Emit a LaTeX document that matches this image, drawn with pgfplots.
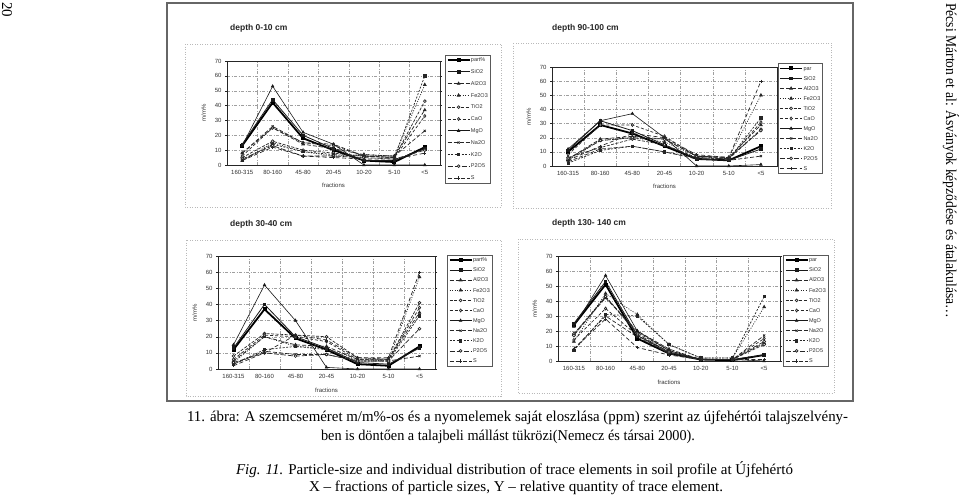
\documentclass[border=0pt]{standalone}
\usepackage{pgfplots}
\pgfplotsset{compat=1.18}
\usepackage{pgfplotstable}
\usepackage{fontspec}
\setmainfont{Liberation Sans}
\newfontfamily\serif{Liberation Serif}
\usetikzlibrary{plotmarks}

\newsavebox\fitbox
\newcommand\fitw[2]{\sbox\fitbox{#2}\pgfmathsetmacro\fitsx{#1/\the\wd\fitbox}\scalebox{\fitsx}[1]{\usebox\fitbox}}

% x: 0=160-315, 1=80-160, 2=45-80, 3=20-45, 4=10-20, 5=5-10, 6=<5
\pgfplotstableread{
x part SiO2 Al2O3 Fe2O3 TiO2 CaO MgO Na2O K2O P2O5 S
0 13 14 8 3 5 6 13 8 3 4 3
1 42 44 25 15 16 25 53 26 14 13 12
2 18 20 14 9 10 15 22 15 9 6 6
3 10 11 11 6 8 13 14 14 7 6 5
4 3 3 7 7 6 6 0 6 6 5 4
5 2 3 6 6 5 5 0 6 5 4 4
6 12 11 37 54 43 33 0 23 60 10 8
}\tA
\pgfplotstableread{
x part SiO2 Al2O3 Fe2O3 TiO2 CaO MgO Na2O K2O P2O5 S
0 10 11 5 4 6 8 12 3 2 5 4
1 29 32 19 18 13 29 32 12 11 18 14
2 23 25 21 20 19 29 37 14 14 20 23
3 14 15 19 17 15 21 20 10 10 19 20
4 5 5 7 7 6 7 0 5 6 7 8
5 4 4 6 6 5 5 0 4 5 6 6
6 14 12 29 50 26 31 1 7 34 25 60
}\tB
\pgfplotstableread{
x part SiO2 Al2O3 Fe2O3 TiO2 CaO MgO Na2O K2O P2O5 S
0 12 13 5 4 8 6 15 3 3 4 2
1 37 40 20 20 22 21 52 11 12 10 10
2 19 20 15 14 21 20 30 9 14 8 21
3 12 13 14 13 20 17 1 9 12 9 18
4 3 4 6 6 7 6 0 5 5 5 7
5 2 3 6 5 6 6 0 5 5 5 7
6 14 13 35 57 41 38 0 8 33 25 60
}\tC
\pgfplotstableread{
x part SiO2 Al2O3 Fe2O3 TiO2 CaO MgO Na2O K2O P2O5 S
0 24 25 18 13 18 14 23 8 7 17 8
1 51 53 42 45 43 35 57 30 31 43 28
2 15 17 20 31 19 17 20 16 30 18 9
3 5 6 8 11 7 5 7 5 11 6 4
4 1 1 1 2 1 1 1 1 2 1 1
5 0.5 1 1 2 1 1 1 1 2 1 1
6 4 4 12 36 11 15 0 17 43 13 1
}\tD

\pgfplotsset{
  s0/.style={black, line width=1.8pt, mark=square*, mark size=1.1pt},
  s1/.style={black!90, line width=0.8pt, mark=square*, mark size=1.3pt},
  s2/.style={black!85, line width=0.7pt, dash pattern=on 4pt off 2pt, mark=triangle*, mark size=1.5pt, mark options={solid}},
  s3/.style={black!85, line width=0.7pt, dash pattern=on 1pt off 1.5pt, mark=triangle*, mark size=1.6pt, mark options={solid}},
  s4/.style={black!85, line width=0.7pt, dash pattern=on 3pt off 1.5pt, mark=*, mark size=1.4pt, mark options={solid, fill=white}},
  s5/.style={black!85, line width=0.7pt, dash pattern=on 3pt off 2pt, mark=diamond*, mark size=1.5pt, mark options={solid, fill=white}},
  s6/.style={black!90, line width=0.6pt, mark=triangle*, mark size=1.5pt},
  s7/.style={black!85, line width=0.7pt, dash pattern=on 4pt off 2pt, mark=x, mark size=1.5pt, mark options={solid}},
  s8/.style={black!85, line width=0.7pt, dash pattern=on 2pt off 1.5pt, mark=square*, mark size=1.2pt, mark options={solid}},
  s9/.style={black!85, line width=0.7pt, dash pattern=on 5pt off 2pt, mark=*, mark size=1.4pt, mark options={solid, fill=white}},
  s10/.style={black!85, line width=0.7pt, dash pattern=on 4pt off 2.5pt, mark=+, mark size=1.6pt, mark options={solid}},
  panel/.style={
    scale only axis,
    xmin=-0.5, xmax=6.5, ymin=0, ymax=70,
    xtick={0,...,6},
    xticklabels={160-315,80-160,45-80,20-45,10-20,5-10,<5},
    minor xtick={0.5,1.5,...,5.5},
    ytick={0,10,...,70},
    xminorgrids=true, ymajorgrids=true,
    grid style={gray!75, dash pattern=on 3pt off 1.5pt on 1pt off 1.5pt, line width=0.4pt},
    minor grid style={gray!75, dash pattern=on 3pt off 1.5pt on 1pt off 1.5pt, line width=0.4pt},
    axis line style={black!85, line width=0.7pt},
    xtick style={draw=none},
    ytick style={black!85},
    major tick length=2pt, tick align=outside,
    tick label style={font=\fontsize{6}{7}\selectfont, text=black!80},
    /pgf/number format/assume math mode=true,
    xlabel={fractions}, ylabel={m/m\%},
    xlabel style={yshift=-2pt},
    ylabel style={yshift=2pt},
    label style={font=\fontsize{6}{7}\selectfont, text=black!80},
    legend cell align=left,
    legend image code/.code={\draw[mark repeat=2,mark phase=2,##1] plot coordinates {(0pt,0pt) (11pt,0pt) (22pt,0pt)};},
    legend style={at={(1,1)}, anchor=north west, draw=black!65, line width=0.4pt,
      font=\fontsize{5.5}{6}\selectfont, text=black!80, inner sep=1.5pt,
      nodes={inner sep=0.5pt, text height=4.5pt, text depth=1pt}},
  },
}

\newcommand\plotall[2]{%
  \addplot[s0] table[x=x,y=part]{#1};
  \addplot[s1] table[x=x,y=SiO2]{#1};
  \addplot[s2] table[x=x,y=Al2O3]{#1};
  \addplot[s3] table[x=x,y=Fe2O3]{#1};
  \addplot[s4] table[x=x,y=TiO2]{#1};
  \addplot[s5] table[x=x,y=CaO]{#1};
  \addplot[s6] table[x=x,y=MgO]{#1};
  \addplot[s7] table[x=x,y=Na2O]{#1};
  \addplot[s8] table[x=x,y=K2O]{#1};
  \addplot[s9] table[x=x,y=P2O5]{#1};
  \addplot[s10] table[x=x,y=S]{#1};
  \legend{#2,SiO2,Al2O3,Fe2O3,TiO2,CaO,MgO,Na2O,K2O,P2O5,S}
}

\begin{document}
\begin{tikzpicture}
\useasboundingbox (0pt,0pt) rectangle (960pt,-498pt);
\fill[white] (0pt,0pt) rectangle (960pt,-498pt);

% outer frame
\draw[black!60, line width=1.4pt] (167pt,-3pt) rectangle (853pt,-401pt);
% chart-area borders
\begin{scope}[gray!55, line width=0.4pt, dash pattern=on 1pt off 1.5pt]
\draw (185pt,-44pt) rectangle (501pt,-207pt);
\draw (513pt,-43pt) rectangle (831pt,-208pt);
\draw (186pt,-240pt) rectangle (501pt,-396pt);
\draw (518pt,-239pt) rectangle (834pt,-393pt);
\end{scope}

% titles
\node[anchor=west, font=\fontsize{8.5}{10}\selectfont\bfseries, text=black!85, inner sep=0pt] at (230pt,-28pt) {depth 0-10 cm};
\node[anchor=west, font=\fontsize{8.5}{10}\selectfont\bfseries, text=black!85, inner sep=0pt] at (552pt,-28pt) {depth 90-100 cm};
\node[anchor=west, font=\fontsize{8.5}{10}\selectfont\bfseries, text=black!85, inner sep=0pt] at (230pt,-224pt) {depth 30-40 cm};
\node[anchor=west, font=\fontsize{8.5}{10}\selectfont\bfseries, text=black!85, inner sep=0pt] at (552pt,-223pt) {depth 130- 140 cm};

\begin{axis}[panel, at={(227pt,-165pt)}, anchor=south west, width=213pt, height=104pt,
  legend style={xshift=5pt, yshift=6pt, row sep=5.3pt}]
\plotall{\tA}{part\%}
\end{axis}

\begin{axis}[panel, at={(552pt,-166pt)}, anchor=south west, width=225pt, height=99pt,
  legend style={xshift=0.5pt, yshift=3.5pt, row sep=3.5pt}]
\plotall{\tB}{par}
\end{axis}

\begin{axis}[panel, at={(218pt,-369pt)}, anchor=south west, width=217pt, height=113pt,
  legend style={xshift=12pt, yshift=1pt, row sep=3.6pt}]
\plotall{\tC}{part\%}
\end{axis}

\begin{axis}[panel, at={(558pt,-361pt)}, anchor=south west, width=222pt, height=105pt,
  legend style={xshift=3pt, yshift=1pt, row sep=3.6pt}]
\plotall{\tD}{par}
\end{axis}

% caption
\begin{scope}[every node/.style={inner sep=0pt, font=\serif\fontsize{15}{18}\selectfont, text=black}]
\node at (517.5pt,-418pt) {\fitw{661}{11. ábra: A szemcseméret m/m\%-os és a nyomelemek saját eloszlása (ppm) szerint az újfehértói talajszelvény-}};
\node at (508pt,-437pt) {\fitw{374}{ben is döntően a talajbeli mállást tükrözi(Nemecz és társai 2000).}};
\node at (514.5pt,-470pt) {\fitw{557}{\textit{Fig. 11.} Particle-size and individual distribution of trace elements in soil profile at Újfehértó}};
\node at (516pt,-488pt) {\fitw{414}{X – fractions of particle sizes, Y – relative quantity of trace element.}};
\node[rotate=-90, anchor=west] at (951pt,-3pt) {\fitw{315}{Pécsi Márton et al: Ásványok képződése és átalakulása\ldots}};
\node[rotate=-90, anchor=west] at (7pt,-2pt) {20};
\end{scope}
\end{tikzpicture}
\end{document}
